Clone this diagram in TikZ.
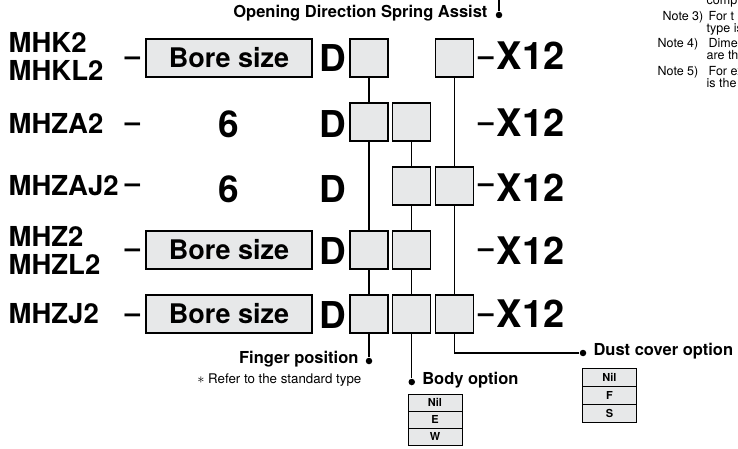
\documentclass[tikz,border=0pt]{standalone}
\usepackage[dvipsnames]{xcolor}
\usepackage{fontspec}
\setmainfont{TeX Gyre Heros}
\usetikzlibrary{positioning}
\definecolor{boxgray}{RGB}{231,232,233}

\begin{document}
\begin{tikzpicture}[x=1pt,y=-1pt,node distance=64pt,line width=1.3pt,
    cell/.style={draw,fill=boxgray,minimum width=38pt,minimum height=38pt,inner sep=0pt},
    bore box/.style={draw,fill=boxgray,minimum width=166pt,minimum height=38pt,inner sep=0pt,font=\bfseries\fontsize{27}{27}\selectfont},
    model/.style={anchor=west,align=left,inner sep=0pt,font=\bfseries\fontsize{27.5}{28}\selectfont},
    big/.style={inner sep=0pt,font=\bfseries\fontsize{37}{37}\selectfont},
    suffix/.style={anchor=west,inner sep=0pt,font=\bfseries\fontsize{38}{38}\selectfont},
    hyph/.style={anchor=base,inner sep=0pt,font=\bfseries\fontsize{27.5}{28}\selectfont},
    end dot/.style={circle,fill,minimum size=6.5pt,inner sep=0pt},
    lbl/.style={inner sep=0pt,font=\bfseries\fontsize{16.5}{18}\selectfont},
    opt/.style={draw,fill=boxgray,line width=1pt,minimum width=54pt,minimum height=17pt,inner sep=0pt,node distance=17pt,font=\bfseries\fontsize{11}{11}\selectfont},
    note/.style={anchor=base west,inner sep=0pt,font=\fontsize{12.5}{12.5}\selectfont}]

    \useasboundingbox (0,0) rectangle (738,449);

    % model names
    \node[model] (m1) at (8,56) {MHK2\\MHKL2};
    \node[model] (m2) at (8,123) {MHZA2};
    \node[model] (m3) at (8,186) {MHZAJ2};
    \node[model] (m4) at (8,250) {MHZ2\\MHZL2};
    \node[model] (m5) at (8,314) {MHZJ2};

    \node[hyph] (h1) at (132.5,66) {–};
    \node[hyph] (h2) at (132.5,132) {–};
    \node[hyph] (h3) at (132.5,192) {–};
    \node[hyph] (h4) at (132.5,257) {–};
    \node[hyph] (h5) at (132.5,322) {–};

    % bore size
    \node[bore box] (s1) at (229,58) {Bore size};
    \node[big] (s2) at (229,124.5) {6};
    \node[big] (s3) at (229,189) {6};
    \node[bore box] (s4) at (229,250) {Bore size};
    \node[bore box] (s5) at (229,314) {Bore size};

    \node[big] (d1) at (332.5,58) {D};
    \node[big] (d2) at (332.5,124.5) {D};
    \node[big] (d3) at (332.5,189) {D};
    \node[big] (d4) at (332.5,251) {D};
    \node[big] (d5) at (332.5,315) {D};

    % option cells
    \node[cell] (b11) at (369,58) {};
    \node[cell] (b13) [right of = b11, node distance=85.5pt] {};
    \node[cell] (b21) [below of = b11] {};
    \node[cell] (b22) [right of = b21, node distance=42.75pt] {};
    \node[cell] (b33) [below of = b13, node distance=128pt] {};
    \node[cell] (b32) [left of = b33, node distance=42.75pt] {};
    \node[cell] (b41) [below of = b21, node distance=128pt] {};
    \node[cell] (b42) [below of = b22, node distance=128pt] {};
    \node[cell] (b51) [below of = b41] {};
    \node[cell] (b52) [below of = b42] {};
    \node[cell] (b53) [below of = b33, node distance=128pt] {};

    % X12
    \node[hyph,font=\bfseries\fontsize{28}{28}\selectfont] (t1) at (486,66) {–};
    \node[hyph,font=\bfseries\fontsize{28}{28}\selectfont] (t2) at (486,132) {–};
    \node[hyph,font=\bfseries\fontsize{28}{28}\selectfont] (t3) at (486,193) {–};
    \node[hyph,font=\bfseries\fontsize{28}{28}\selectfont] (t4) at (486,257) {–};
    \node[hyph,font=\bfseries\fontsize{28}{28}\selectfont] (t5) at (486,322) {–};
    \node[suffix] (x1) at (496,56) {X12};
    \node[suffix] (x2) at (496,122.5) {X12};
    \node[suffix] (x3) at (496,187.5) {X12};
    \node[suffix] (x4) at (496,251) {X12};
    \node[suffix] (x5) at (496,314) {X12};

    % labels
    \node[end dot] (fdot) at (369,361) {};
    \node[end dot] (bdot) at (411.75,382) {};
    \node[end dot] (ddot) at (583,353) {};
    \node[end dot] (sdot) at (499,15) {};
    \coordinate (sa top) at (499,0);

    \node[lbl,left=6pt of fdot,anchor=mid east] (fpos) {Finger position};
    \node[inner sep=0pt,anchor=base east,font=\fontsize{13.3}{14}\selectfont] (fref) at (362,383) {$\ast$ Refer to the standard type};
    \node[lbl,right=6pt of bdot,anchor=mid west] (bopt) {Body option};
    \node[lbl,right=6pt of ddot,anchor=mid west] (dopt) {Dust cover option};
    \node[lbl,left=7pt of sdot,anchor=mid east] (sopt) {Opening Direction Spring Assist};

    \node[opt] (bnil) at (435,402.5) {Nil};
    \node[opt] (be) [below of = bnil] {E};
    \node[opt] (bw) [below of = be] {W};
    \node[opt,minimum height=18pt,node distance=18pt] (dnil) at (609.5,377) {Nil};
    \node[opt,minimum height=18pt,node distance=18pt] (df) [below of = dnil] {F};
    \node[opt,minimum height=18pt,node distance=18pt] (ds) [below of = df] {S};

    \draw (b11) -- (b21);
    \draw (b21) -- (b41);
    \draw (b41) -- (b51);
    \draw (b51) -- (fdot);
    \draw (b22) -- (b32);
    \draw (b32) -- (b42);
    \draw (b42) -- (b52);
    \draw (b52) -- (bdot);
    \draw (b13) -- (b33);
    \draw (b33) -- (b53);
    \draw (b53) |- (ddot);
    \draw (sdot) -- (sa top);

    % notes
    \node[note] (n0) at (706,5) {comp};
    \node[note] (n1) at (662,21) {Note 3)};
    \node[note] (n1b) at (708,21) {For t};
    \node[note] (n2) at (706,33) {type is};
    \node[note] (n3) at (657,48) {Note 4)};
    \node[note] (n3b) at (708,48) {Dimen};
    \node[note] (n4) at (706,60) {are th};
    \node[note] (n5) at (657,76) {Note 5)};
    \node[note] (n5b) at (708,76) {For ex};
    \node[note] (n6) at (706,88) {is the};

\end{tikzpicture}
\end{document}
